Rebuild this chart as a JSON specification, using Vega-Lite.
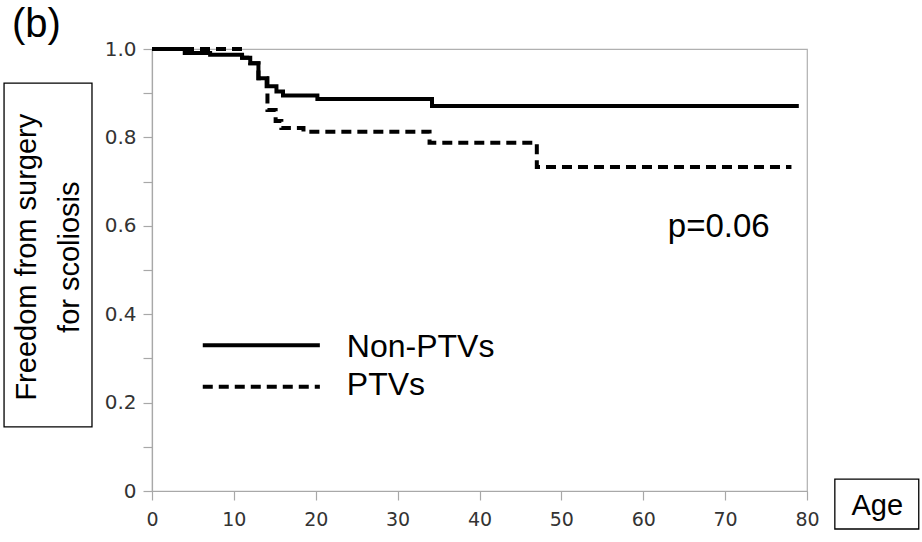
{
  "$schema": "https://vega.github.io/schema/vega-lite/v6.json",
  "width": 655,
  "height": 442,
  "autosize": {"type": "none"},
  "padding": {"left": 152, "top": 49, "right": 115, "bottom": 51},
  "background": "white",
  "config": {"view": {"stroke": "#b0b0b0", "strokeWidth": 1.2}},
  "datasets": {
    "km": [
      {"group": "Non-PTVs", "age": 0, "surv": 1.0},
      {"group": "Non-PTVs", "age": 4.0, "surv": 0.991},
      {"group": "Non-PTVs", "age": 7.1, "surv": 0.987},
      {"group": "Non-PTVs", "age": 11.0, "surv": 0.98},
      {"group": "Non-PTVs", "age": 12.0, "surv": 0.968},
      {"group": "Non-PTVs", "age": 13.0, "surv": 0.934},
      {"group": "Non-PTVs", "age": 14.0, "surv": 0.916},
      {"group": "Non-PTVs", "age": 15.2, "surv": 0.904},
      {"group": "Non-PTVs", "age": 16.0, "surv": 0.895},
      {"group": "Non-PTVs", "age": 20.2, "surv": 0.887},
      {"group": "Non-PTVs", "age": 34.2, "surv": 0.871},
      {"group": "Non-PTVs", "age": 79.0, "surv": 0.871},
      {"group": "PTVs", "age": 0, "surv": 1.0},
      {"group": "PTVs", "age": 11.0, "surv": 0.98},
      {"group": "PTVs", "age": 12.0, "surv": 0.968},
      {"group": "PTVs", "age": 13.0, "surv": 0.934},
      {"group": "PTVs", "age": 14.1, "surv": 0.862},
      {"group": "PTVs", "age": 15.1, "surv": 0.837},
      {"group": "PTVs", "age": 15.8, "surv": 0.821},
      {"group": "PTVs", "age": 18.5, "surv": 0.813},
      {"group": "PTVs", "age": 33.9, "surv": 0.788},
      {"group": "PTVs", "age": 47.0, "surv": 0.733},
      {"group": "PTVs", "age": 78.1, "surv": 0.733}
    ],
    "legendLines": [
      {"group": "Non-PTVs", "age": 6.2, "age2": 20.5, "surv": 0.33},
      {"group": "PTVs", "age": 6.2, "age2": 20.5, "surv": 0.236}
    ],
    "legendText": [
      {"label": "Non-PTVs", "age": 23.8, "surv": 0.304},
      {"label": "PTVs", "age": 23.8, "surv": 0.217}
    ],
    "pText": [{"label": "p=0.06", "age": 63.0, "surv": 0.575}],
    "panelText": [{"label": "(b)", "age": -17.1, "surv": 1.027}],
    "boxes": [
      {"name": "ytitle", "age": -18.07, "age2": -7.33, "surv": 0.145, "surv2": 0.923},
      {"name": "xtitle", "age": 83.4, "age2": 93.65, "surv": -0.086, "surv2": 0.027}
    ],
    "ageText": [{"label": "Age", "age": 88.58, "surv": -0.054}],
    "yTitleText": [
      {"label": "Freedom from surgery", "age": -14.16, "surv": 0.529},
      {"label": "for scoliosis", "age": -8.91, "surv": 0.529}
    ]
  },
  "layer": [
    {
      "data": {"name": "km"},
      "mark": {"type": "line", "interpolate": "step-after", "color": "black", "strokeWidth": 4, "strokeCap": "butt"},
      "encoding": {
        "x": {
          "field": "age", "type": "quantitative",
          "scale": {"domain": [0, 80], "nice": false, "zero": false},
          "axis": {
            "title": null, "grid": false, "values": [0, 10, 20, 30, 40, 50, 60, 70, 80],
            "domainColor": "#a8a8a8", "domainWidth": 1.2, "tickColor": "#a8a8a8", "tickWidth": 1.2, "tickSize": 9,
            "labelFont": "DejaVu Sans", "labelFontSize": 19, "labelColor": "#333333", "labelPadding": 10,
            "labelFlush": false, "labelOverlap": false
          }
        },
        "y": {
          "field": "surv", "type": "quantitative",
          "scale": {"domain": [0, 1], "nice": false, "zero": false},
          "axis": {
            "title": null, "grid": false, "values": [0, 0.1, 0.2, 0.3, 0.4, 0.5, 0.6, 0.7, 0.8, 0.9, 1.0],
            "labelExpr": "datum.value == 0 ? '0' : (round(datum.value * 10) % 2 == 0 ? format(datum.value, '.1f') : '')",
            "domainColor": "#a8a8a8", "domainWidth": 1.2, "tickColor": "#a8a8a8", "tickWidth": 1.2, "tickSize": 9,
            "labelFont": "DejaVu Sans", "labelFontSize": 20, "labelColor": "#333333", "labelPadding": 7,
            "labelFlush": false, "labelOverlap": false
          }
        },
        "detail": {"field": "group"},
        "strokeDash": {
          "field": "group", "type": "nominal",
          "scale": {"domain": ["Non-PTVs", "PTVs"], "range": [[1, 0], [10, 6]]},
          "legend": null
        }
      }
    },
    {
      "data": {"name": "legendLines"},
      "mark": {"type": "rule", "color": "black", "strokeWidth": 4, "strokeCap": "butt"},
      "encoding": {
        "x": {"field": "age", "type": "quantitative"},
        "x2": {"field": "age2"},
        "y": {"field": "surv", "type": "quantitative"},
        "strokeDash": {"field": "group", "type": "nominal", "legend": null}
      }
    },
    {
      "data": {"name": "legendText"},
      "mark": {"type": "text", "font": "Liberation Sans", "fontSize": 32, "align": "left", "baseline": "alphabetic", "color": "black"},
      "encoding": {
        "x": {"field": "age", "type": "quantitative"},
        "y": {"field": "surv", "type": "quantitative"},
        "text": {"field": "label"}
      }
    },
    {
      "data": {"name": "pText"},
      "mark": {"type": "text", "font": "Liberation Sans", "fontSize": 33, "align": "left", "baseline": "alphabetic", "color": "black"},
      "encoding": {
        "x": {"field": "age", "type": "quantitative"},
        "y": {"field": "surv", "type": "quantitative"},
        "text": {"field": "label"}
      }
    },
    {
      "data": {"name": "panelText"},
      "mark": {"type": "text", "font": "Liberation Sans", "fontSize": 40, "align": "left", "baseline": "alphabetic", "color": "black"},
      "encoding": {
        "x": {"field": "age", "type": "quantitative"},
        "y": {"field": "surv", "type": "quantitative"},
        "text": {"field": "label"}
      }
    },
    {
      "data": {"name": "boxes"},
      "mark": {"type": "rect", "fill": "white", "stroke": "black", "strokeWidth": 1.3},
      "encoding": {
        "x": {"field": "age", "type": "quantitative"},
        "x2": {"field": "age2"},
        "y": {"field": "surv", "type": "quantitative"},
        "y2": {"field": "surv2"}
      }
    },
    {
      "data": {"name": "ageText"},
      "mark": {"type": "text", "font": "Liberation Sans", "fontSize": 29, "align": "center", "baseline": "alphabetic", "color": "black"},
      "encoding": {
        "x": {"field": "age", "type": "quantitative"},
        "y": {"field": "surv", "type": "quantitative"},
        "text": {"field": "label"}
      }
    },
    {
      "data": {"name": "yTitleText"},
      "mark": {"type": "text", "font": "Liberation Sans", "fontSize": 29, "align": "center", "baseline": "alphabetic", "angle": 270, "color": "black"},
      "encoding": {
        "x": {"field": "age", "type": "quantitative"},
        "y": {"field": "surv", "type": "quantitative"},
        "text": {"field": "label"}
      }
    }
  ]
}
